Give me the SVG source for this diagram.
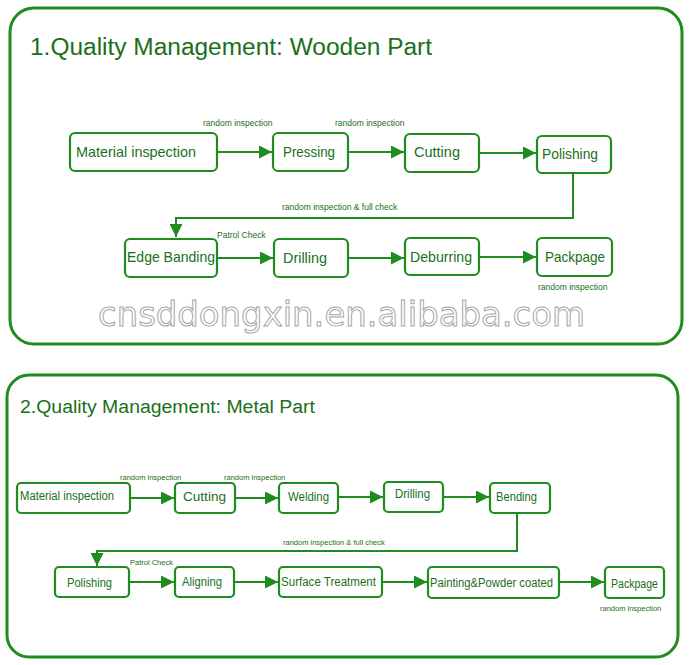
<svg xmlns="http://www.w3.org/2000/svg" width="691" height="665" viewBox="0 0 691 665">
<style>
.panel{fill:#ffffff;stroke:#1f8c1f;stroke-width:3}
.node{fill:#ffffff;stroke:#1f8c1f;stroke-width:2.2}
.t{font-family:"Liberation Sans",Arial,sans-serif;fill:#1a6f1a}
.title{font-size:23px}
.title2{font-size:18px}
.n1{font-size:14.5px}
.n2{font-size:12.5px}
.lbl{font-size:8.5px}
.lbl2{font-size:7.5px}
.c{fill:none;stroke:#1f8c1f;stroke-width:2}
.wm{font-family:"DejaVu Sans",sans-serif;font-size:33px;fill:#ffffff;stroke:#a8a8a8;stroke-width:1}
</style>
<defs>
<marker id="ah" viewBox="0 0 10 10" refX="10" refY="5" markerWidth="6.5" markerHeight="6.5" orient="auto" markerUnits="strokeWidth">
<path d="M0,0 L10,5 L0,10 z" fill="#1f8c1f"/>
</marker>
</defs>
<rect width="691" height="665" fill="#ffffff"/>

<!-- Panel 1 -->
<g id="panel1">
<rect class="panel" x="10" y="8" width="672" height="336" rx="24"/>
<text class="t title" x="30" y="55" textLength="402" lengthAdjust="spacingAndGlyphs">1.Quality Management: Wooden Part</text>
</g>

<text class="wm" x="98" y="326" textLength="487" lengthAdjust="spacingAndGlyphs">cnsddongxin.en.alibaba.com</text>

<g id="connectors1">
<line class="c" x1="217" y1="152" x2="272" y2="152" marker-end="url(#ah)"/>
<line class="c" x1="348" y1="152" x2="404" y2="152" marker-end="url(#ah)"/>
<line class="c" x1="479" y1="153" x2="536" y2="153" marker-end="url(#ah)"/>
<polyline class="c" points="573,173 573,218 176,218 176,237" marker-end="url(#ah)"/>
<line class="c" x1="217" y1="258" x2="273" y2="258" marker-end="url(#ah)"/>
<line class="c" x1="348" y1="258" x2="404" y2="258" marker-end="url(#ah)"/>
<line class="c" x1="479" y1="257" x2="536" y2="257" marker-end="url(#ah)"/>
<text class="t lbl" x="203" y="126">random inspection</text>
<text class="t lbl" x="335" y="126">random inspection</text>
<text class="t lbl" x="282" y="210">random inspection &amp; full check</text>
<text class="t lbl" x="217" y="238">Patrol Check</text>
<text class="t lbl" x="538" y="290">random inspection</text>
</g>

<g id="w-material"><rect class="node" x="70" y="133" width="147" height="38" rx="5"/><text class="t n1" x="76" y="157" textLength="120" lengthAdjust="spacingAndGlyphs">Material inspection</text></g>
<g id="w-pressing"><rect class="node" x="273" y="133" width="75" height="38" rx="5"/><text class="t n1" x="283" y="157" textLength="52" lengthAdjust="spacingAndGlyphs">Pressing</text></g>
<g id="w-cutting"><rect class="node" x="405" y="134" width="74" height="38" rx="5"/><text class="t n1" x="414" y="157" textLength="46" lengthAdjust="spacingAndGlyphs">Cutting</text></g>
<g id="w-polishing"><rect class="node" x="537" y="136" width="74" height="37" rx="5"/><text class="t n1" x="542" y="159" textLength="56" lengthAdjust="spacingAndGlyphs">Polishing</text></g>
<g id="w-edge"><rect class="node" x="125" y="239" width="92" height="38" rx="5"/><text class="t n1" x="127" y="262" textLength="88" lengthAdjust="spacingAndGlyphs">Edge Banding</text></g>
<g id="w-drilling"><rect class="node" x="274" y="239" width="74" height="38" rx="5"/><text class="t n1" x="283" y="263" textLength="44" lengthAdjust="spacingAndGlyphs">Drilling</text></g>
<g id="w-deburring"><rect class="node" x="405" y="238" width="74" height="37" rx="5"/><text class="t n1" x="410" y="262" textLength="62" lengthAdjust="spacingAndGlyphs">Deburring</text></g>
<g id="w-packpage"><rect class="node" x="537" y="238" width="75" height="38" rx="5"/><text class="t n1" x="545" y="262" textLength="60" lengthAdjust="spacingAndGlyphs">Packpage</text></g>

<!-- Panel 2 -->
<g id="panel2">
<rect class="panel" x="7" y="375" width="671" height="282" rx="22"/>
<text class="t title2" x="20" y="413" textLength="295" lengthAdjust="spacingAndGlyphs">2.Quality Management: Metal Part</text>
</g>

<g id="connectors2">
<line class="c" x1="130" y1="498" x2="174" y2="498" marker-end="url(#ah)"/>
<line class="c" x1="235" y1="498" x2="278" y2="498" marker-end="url(#ah)"/>
<line class="c" x1="338" y1="497" x2="383" y2="497" marker-end="url(#ah)"/>
<line class="c" x1="443" y1="497" x2="489" y2="497" marker-end="url(#ah)"/>
<polyline class="c" points="517,513 517,551 97,551 97,566" marker-end="url(#ah)"/>
<line class="c" x1="129" y1="582" x2="174" y2="582" marker-end="url(#ah)"/>
<line class="c" x1="234" y1="582" x2="278" y2="582" marker-end="url(#ah)"/>
<line class="c" x1="382" y1="582" x2="427" y2="582" marker-end="url(#ah)"/>
<line class="c" x1="559" y1="582" x2="604" y2="582" marker-end="url(#ah)"/>
<text class="t lbl2" x="120" y="480">random inspection</text>
<text class="t lbl2" x="224" y="480">random inspection</text>
<text class="t lbl2" x="283" y="545">random inspection &amp; full check</text>
<text class="t lbl2" x="130" y="565">Patrol Check</text>
<text class="t lbl2" x="600" y="611">random inspection</text>
</g>

<g id="m-material"><rect class="node" x="17" y="483" width="113" height="30" rx="4"/><text class="t n2" x="20" y="500" textLength="94" lengthAdjust="spacingAndGlyphs">Material inspection</text></g>
<g id="m-cutting"><rect class="node" x="175" y="483" width="60" height="30" rx="4"/><text class="t n2" x="183" y="501" textLength="43" lengthAdjust="spacingAndGlyphs">Cutting</text></g>
<g id="m-welding"><rect class="node" x="279" y="483" width="59" height="30" rx="4"/><text class="t n2" x="288" y="501" textLength="41" lengthAdjust="spacingAndGlyphs">Welding</text></g>
<g id="m-drilling"><rect class="node" x="384" y="482" width="59" height="30" rx="4"/><text class="t n2" x="395" y="498" textLength="35" lengthAdjust="spacingAndGlyphs">Drilling</text></g>
<g id="m-bending"><rect class="node" x="490" y="483" width="60" height="30" rx="4"/><text class="t n2" x="496" y="501" textLength="41" lengthAdjust="spacingAndGlyphs">Bending</text></g>
<g id="m-polishing"><rect class="node" x="55" y="567" width="74" height="30" rx="4"/><text class="t n2" x="67" y="587" textLength="45" lengthAdjust="spacingAndGlyphs">Polishing</text></g>
<g id="m-aligning"><rect class="node" x="175" y="567" width="59" height="30" rx="4"/><text class="t n2" x="182" y="586" textLength="40" lengthAdjust="spacingAndGlyphs">Aligning</text></g>
<g id="m-surface"><rect class="node" x="279" y="567" width="103" height="30" rx="4"/><text class="t n2" x="281" y="586" textLength="95" lengthAdjust="spacingAndGlyphs">Surface Treatment</text></g>
<g id="m-painting"><rect class="node" x="428" y="567" width="131" height="31" rx="4"/><text class="t n2" x="430" y="587" textLength="123" lengthAdjust="spacingAndGlyphs">Painting&amp;Powder coated</text></g>
<g id="m-packpage"><rect class="node" x="605" y="567" width="59" height="31" rx="4"/><text class="t n2" x="611" y="588" textLength="47" lengthAdjust="spacingAndGlyphs">Packpage</text></g>
</svg>
